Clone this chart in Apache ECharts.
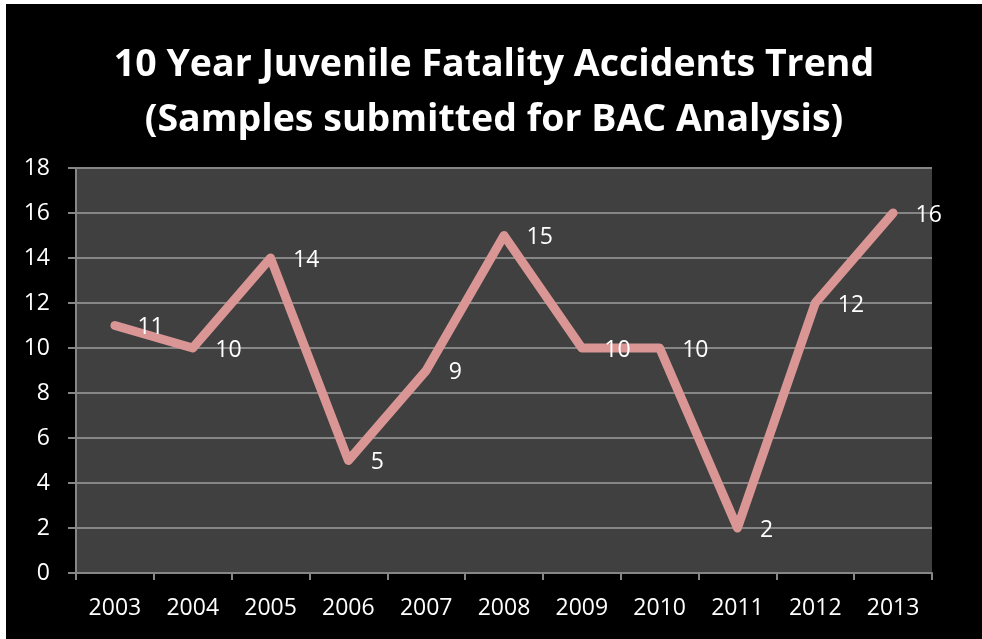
<!DOCTYPE html>
<html>
<head>
<meta charset="utf-8">
<script src="https://cdn.jsdelivr.net/npm/echarts@6/dist/echarts.min.js"></script>
<style>
  html, body { margin: 0; padding: 0; background: #ffffff; width: 982px; height: 639px; overflow: hidden; }
  #chart { position: absolute; left: 6px; top: 4px; width: 976px; height: 635px; background: #000000; }
</style>
</head>
<body>
<div id="chart"></div>
<script>
// Yearly counts of juvenile fatality samples sent for BAC analysis
const years = ['2003', '2004', '2005', '2006', '2007', '2008', '2009', '2010', '2011', '2012', '2013'];
const samples = [11, 10, 14, 5, 9, 15, 10, 10, 2, 12, 16];
const yTicks = { min: 0, max: 18, interval: 2 };

const chart = echarts.init(document.getElementById('chart'), null, { renderer: 'canvas' });
const font = '"Open Sans", "Noto Sans", sans-serif';

chart.setOption({
  backgroundColor: '#000000',
  animation: false,
  title: {
    text: '10 Year Juvenile Fatality Accidents Trend\n(Samples submitted for BAC Analysis)',
    left: 'center',
    top: 29,
    textStyle: {
      color: '#ffffff',
      fontFamily: font,
      fontWeight: 'bold',
      fontSize: 37.5,
      lineHeight: 55
    }
  },
  grid: {
    left: 70,
    right: 50,
    top: 164,
    bottom: 66,
    show: true,
    backgroundColor: '#404040',
    borderWidth: 0
  },
  xAxis: {
    type: 'category',
    data: years,
    boundaryGap: true,
    axisLine: { lineStyle: { color: '#868686', width: 2 } },
    axisTick: { show: true, length: 7, lineStyle: { color: '#868686', width: 2 } },
    axisLabel: { color: '#ffffff', fontFamily: font, fontSize: 23, margin: 24 },
    splitLine: { show: false }
  },
  yAxis: {
    type: 'value',
    min: yTicks.min,
    max: yTicks.max,
    interval: yTicks.interval,
    axisLine: { show: true, lineStyle: { color: '#868686', width: 2 } },
    axisTick: { show: true, length: 8, lineStyle: { color: '#868686', width: 2 } },
    axisLabel: { color: '#ffffff', fontFamily: font, fontSize: 23, margin: 26 },
    splitLine: { show: true, lineStyle: { color: '#868686', width: 2 } }
  },
  series: [{
    type: 'line',
    data: samples,
    symbol: 'circle',
    symbolSize: 1,
    showSymbol: true,
    itemStyle: { color: '#D99694' },
    lineStyle: { color: '#D99694', width: 9, cap: 'round', join: 'round' },
    label: {
      show: true,
      position: 'right',
      distance: 22,
      offset: [0, 2],
      color: '#ffffff',
      fontFamily: font,
      fontSize: 23
    }
  }]
});
</script>
</body>
</html>
